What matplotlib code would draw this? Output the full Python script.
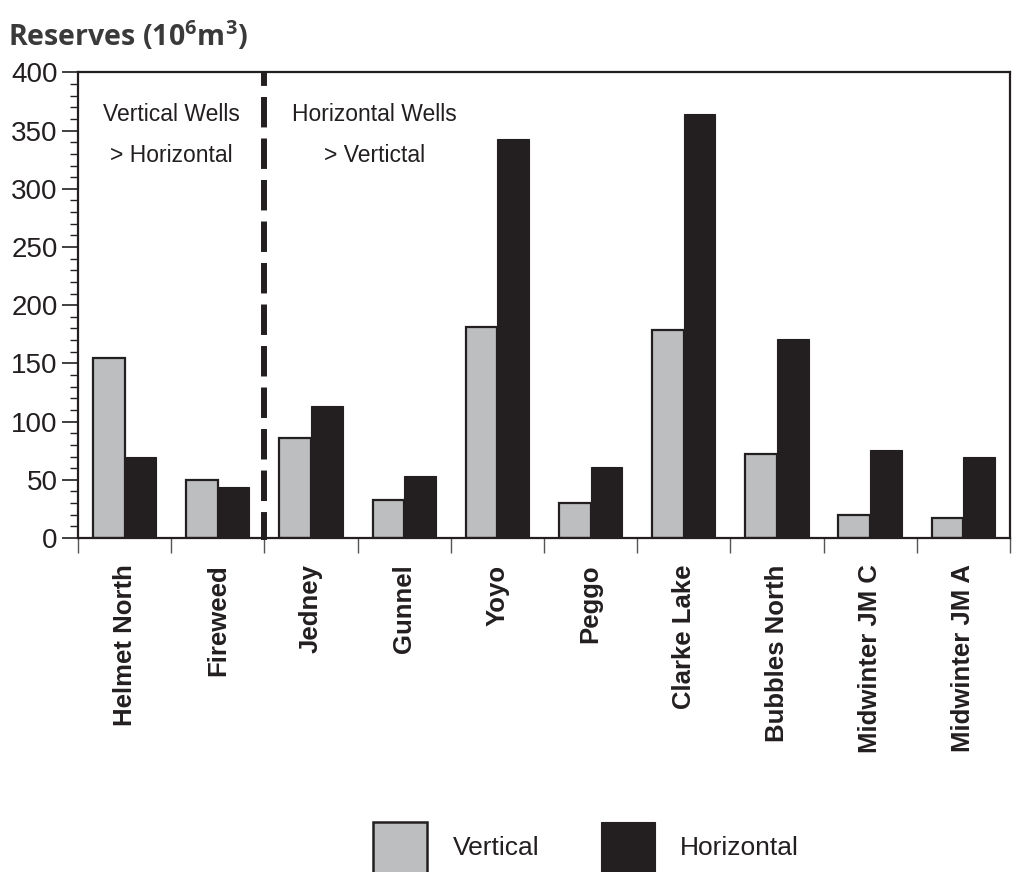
"""Reserves per field: vertical vs horizontal well development."""

import numpy as np
import matplotlib

matplotlib.use("Agg")
import matplotlib.pyplot as plt
from matplotlib.patches import Rectangle
from matplotlib.ticker import MultipleLocator, FixedLocator

INK = "#231f20"
GREY = "#bcbec0"

fields = [
    "Helmet North", "Fireweed", "Jedney", "Gunnel", "Yoyo",
    "Peggo", "Clarke Lake", "Bubbles North", "Midwinter JM C", "Midwinter JM A",
]
vertical = [155, 50, 86, 33, 181, 30, 179, 72, 20, 17]
horizontal = [70, 44, 113, 53, 343, 61, 364, 171, 76, 70]

plt.rcParams["font.family"] = ["Liberation Sans", "DejaVu Sans"]
plt.rcParams["mathtext.default"] = "regular"

fig = plt.figure(figsize=(10.13, 8.72), dpi=100)
ax = fig.add_axes([0.077, 0.383, 0.92, 0.534])

x = np.arange(len(fields))
w = 0.34
ax.bar(x - w / 2, vertical, width=w, color=GREY, edgecolor=INK, linewidth=1.6, zorder=2)
ax.bar(x + w / 2, horizontal, width=w, color=INK, edgecolor=INK, linewidth=0.8, zorder=3)

ax.set_xlim(-0.5, len(fields) - 0.5)
ax.set_ylim(0, 400)

# split between the two groups of fields
ax.plot([1.5, 1.5], [401.5, -2], color=INK, linewidth=4.3,
        linestyle=(2.6, (5.1, 1.85)), solid_capstyle="butt",
        dash_capstyle="butt", zorder=4, clip_on=False)

for s in ax.spines.values():
    s.set_color(INK)
    s.set_linewidth(1.6)

ax.yaxis.set_major_locator(MultipleLocator(50))
ax.yaxis.set_minor_locator(MultipleLocator(10))
ax.tick_params(axis="y", which="major", length=11.5, width=1.2, color=INK,
               labelsize=20, labelcolor=INK, pad=3)
ax.tick_params(axis="y", which="minor", length=6, width=1.0, color=INK)

# boundary ticks on x, labels sit at category centres
ax.xaxis.set_major_locator(FixedLocator(np.arange(-0.5, len(fields), 1.0)))
ax.xaxis.set_minor_locator(FixedLocator(x))
ax.tick_params(axis="x", which="major", length=11, width=1.0, color="#555555",
               labelbottom=False)
ax.tick_params(axis="x", which="minor", length=0, pad=19)
ax.set_xticks(x, minor=True)
ax.set_xticklabels(fields, minor=True, rotation=90, va="top", ha="center",
                   fontsize=18.5, fontweight="bold", color=INK)

ax.text(0.5, 364, "Vertical Wells", ha="center", va="center", fontsize=16.5, color=INK)
ax.text(0.5, 329, "> Horizontal", ha="center", va="center", fontsize=16.5, color=INK)
ax.text(2.68, 364, "Horizontal Wells", ha="center", va="center", fontsize=16.5, color=INK)
ax.text(2.68, 329, "> Vertictal", ha="center", va="center", fontsize=16.5, color=INK)

fig.text(8 / 1013, 1 - 36 / 872, "Reserves (10$^{6}$m$^{3}$)", ha="left", va="center",
         fontsize=20.5, fontweight="bold", color="#3a3a3a",
         family=["Open Sans", "DejaVu Sans"])

# legend drawn by hand along the bottom edge
W, H = 1013, 872
for x0, fc, lw, label, tx in [
    (373, GREY, 1.8, "Vertical", 453),
    (601, INK, 0.8, "Horizontal", 680),
]:
    fig.patches.append(Rectangle((x0 / W, -10 / H), 54 / W, 60 / H,
                                 transform=fig.transFigure, facecolor=fc,
                                 edgecolor=INK, linewidth=lw))
    fig.text(tx / W, 1 - 848 / H, label, ha="left", va="center",
             fontsize=19, color=INK)

fig.savefig("out.png", dpi=100)
